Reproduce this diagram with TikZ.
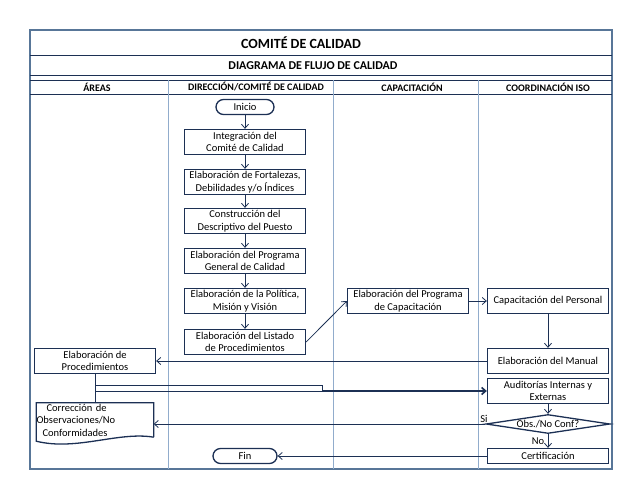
\documentclass[tikz,border=0pt]{standalone}
\usepackage{fontspec}
\setmainfont{Carlito}
\usetikzlibrary{arrows.meta,shapes.geometric,positioning,calc}
\definecolor{navyline}{RGB}{28,48,84}
\definecolor{framegray}{RGB}{88,118,152}
\definecolor{lanegray}{RGB}{145,172,204}
\tikzstyle{process} = [rectangle, minimum width=121pt, minimum height=25pt, inner sep=1pt, align=center, draw=navyline, line width=1.3pt, font=\fontsize{10.5}{12.5}\selectfont]
\tikzstyle{term} = [rectangle, rounded corners=7.5pt, minimum width=58pt, minimum height=15pt, inner sep=1pt, draw=navyline, line width=1.3pt, font=\fontsize{10.5}{12.5}\selectfont]
\tikzstyle{arrow} = [draw=navyline, line width=0.8pt, -{Straight Barb[length=4pt,width=7pt]}]
\tikzstyle{head} = [font=\fontsize{10}{12}\selectfont\bfseries]
\tikzstyle{lbl} = [font=\fontsize{10.5}{12.5}\selectfont, inner sep=0pt]

\begin{document}
\begin{tikzpicture}[x=1pt,y=-1pt]
\useasboundingbox (0,0) rectangle (638,479);
% marco y carriles
\draw[framegray, line width=1.5pt] (30,30) rectangle (612,469);
\draw[navyline, line width=0.9pt] (30,55) -- (612,55);
\draw[navyline, line width=0.9pt] (30,75) -- (612,75);
\draw[navyline, line width=0.9pt] (30,80) -- (612,80);
\draw[navyline, line width=0.9pt] (30,94) -- (612,94);
\foreach \xl in {168,333,478}
  \draw[lanegray, line width=0.9pt] (\xl,80) -- (\xl,469);
\node (titulo) at (301,43) {\fontsize{14}{16}\selectfont\bfseries COMITÉ DE CALIDAD};
\node (subtitulo) at (313,65.5) {\fontsize{12}{14}\selectfont\bfseries DIAGRAMA DE FLUJO DE CALIDAD};
\node[head] (hareas) at (97,87) {ÁREAS};
\node[head] (hdir) at (256,87) {DIRECCIÓN/COMITÉ DE CALIDAD};
\node[head] (hcap) at (412,87) {CAPACITACIÓN};
\node[head] (hiso) at (548,87) {COORDINACIÓN ISO};

% nodos
\node[term] (inicio) at (245,107) {Inicio};
\node[process] (integ) at (245,142) {Integración del\\ Comité de Calidad};
\node[process] (fort) at (245,182) {Elaboración de Fortalezas,\\ Debilidades y/o Índices};
\node[process] (constr) at (245,221) {Construcción del\\ Descriptivo del Puesto};
\node[process] (progcal) at (245,261) {Elaboración del Programa\\ General de Calidad};
\node[process] (polit) at (245,301) {Elaboración de la Política,\\ Misión y Visión};
\node[process] (listado) at (245,342) {Elaboración del Listado\\ de Procedimientos};
\node[process] (progcap) at (408,301) {Elaboración del Programa\\ de Capacitación};
\node[process] (capper) at (548,301) {Capacitación del Personal};
\node[process] (manual) at (548,361) {Elaboración del Manual};
\node[process] (procs) at (95,361) {Elaboración de\\ Procedimientos};
\node[process] (audit) at (548,391) {Auditorías Internas y\\ Externas};
\node[diamond, draw=navyline, line width=1.3pt, minimum width=124pt, minimum height=19pt, inner sep=0pt,
  label={[lbl]center:Obs./No Conf?}] (obs) at (548,424) {};
\node[process, minimum height=15pt] (cert) at (548,456) {Certificación};
\node[term, minimum width=64pt] (fin) at (245,456) {Fin};
\node[lbl, text width=117pt, minimum height=34pt, align=left] (correc) at (95,420)
  {\hspace*{10pt}Corrección de\\ Observaciones/No\\ \hspace*{6pt}Conformidades};
\draw[navyline, line width=1.3pt] (correc.south east) -- (correc.north east) -- (correc.north west)
  -- ($(correc.south west)+(0,4)$) .. controls +(40,10) and +(-35,-6) .. (correc.south east);
\node[lbl] (si) at (484,419) {Si};
\node[lbl] (no) at (538,441) {No};

% conectores
\draw[arrow] (inicio) -- (integ);
\draw[arrow] (integ) -- (fort);
\draw[arrow] (fort) -- (constr);
\draw[arrow] (constr) -- (progcal);
\draw[arrow] (progcal) -- (polit);
\draw[arrow] (polit) -- (listado);
\draw[arrow] (listado.east) -- (progcap.west);
\draw[arrow] (progcap) -- (capper);
\draw[arrow] (capper) -- (manual);
\draw[arrow] (manual) -- (procs);
\draw[navyline, line width=0.8pt] (procs) -- (correc);
\coordinate (quiebre) at (322,391);
\draw[navyline, line width=0.8pt] (procs.south |- 0,385) rectangle (quiebre);
\draw[arrow, line width=1.6pt] (quiebre) -- (audit.west);
\draw[arrow] (audit) -- (obs.north);
\draw[arrow] (obs.west) -- (obs.west -| correc.east);
\draw[arrow] (obs.south) -- (cert);
\draw[arrow] (cert) -- (fin);
\end{tikzpicture}
\end{document}
